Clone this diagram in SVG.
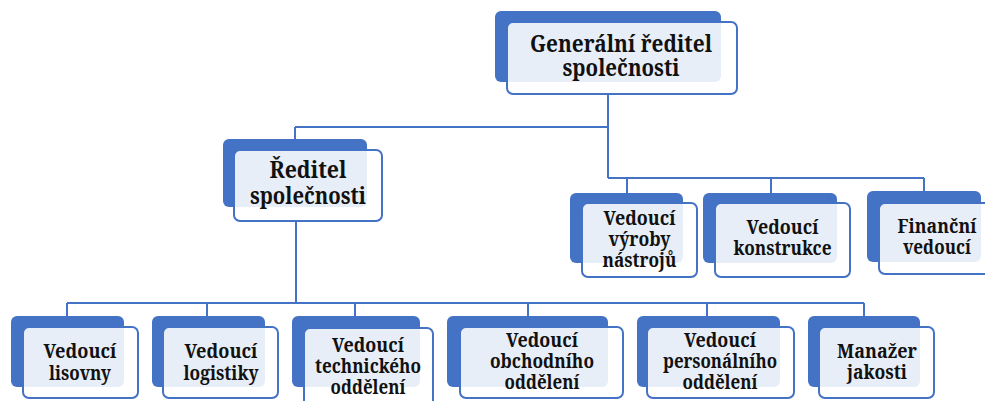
<svg xmlns="http://www.w3.org/2000/svg" width="985" height="401" viewBox="0 0 985 401">
<style>
.bk{fill:#4472c4}
.fr{fill:#ffffff;fill-opacity:0.88;stroke:#4472c4;stroke-width:2}
.ln{stroke:#4472c4;stroke-width:2;fill:none}
text{font-family:'Noto Serif','DejaVu Serif',serif;font-weight:700;fill:#111;text-anchor:middle}
.big{font-size:23px}
.sm{font-size:19px}
</style>
<rect width="985" height="401" fill="#ffffff"/>
<g id="connectors">
<path class="ln" d="M608 94V178M295 127H608M295 127V139M608 178H924M627 178V193M771 178V193M924 178V191"/>
<path class="ln" d="M296 221V303M67 303H864M67 303V316M207 303V316M355 303V316M528 303V316M707 303V316M864 303V316"/>
</g>
<g id="gen">
<rect class="bk" x="495" y="11" width="226" height="71" rx="6"/>
<rect class="fr" x="507" y="22" width="230" height="72" rx="6"/>
<text class="big" x="621" y="52" textLength="182" lengthAdjust="spacingAndGlyphs">Generální ředitel</text>
<text class="big" x="621" y="76" textLength="117" lengthAdjust="spacingAndGlyphs">společnosti</text>
</g>
<g id="reditel">
<rect class="bk" x="223" y="139" width="144" height="68" rx="6"/>
<rect class="fr" x="234" y="150" width="148" height="71" rx="6"/>
<text class="big" x="308" y="178" textLength="77" lengthAdjust="spacingAndGlyphs">Ředitel</text>
<text class="big" x="308" y="204" textLength="116" lengthAdjust="spacingAndGlyphs">společnosti</text>
</g>
<g id="vyroba">
<rect class="bk" x="570" y="193" width="113" height="70" rx="6"/>
<rect class="fr" x="582" y="203" width="115" height="74" rx="6"/>
<text class="sm" x="639.5" y="225" textLength="72" lengthAdjust="spacingAndGlyphs">Vedoucí</text>
<text class="sm" x="639.5" y="246" textLength="62" lengthAdjust="spacingAndGlyphs">výroby</text>
<text class="sm" x="639.5" y="267" textLength="74" lengthAdjust="spacingAndGlyphs">nástrojů</text>
</g>
<g id="konstrukce">
<rect class="bk" x="703" y="193" width="134" height="70" rx="6"/>
<rect class="fr" x="715" y="203" width="135" height="74" rx="6"/>
<text class="sm" x="782.5" y="234" textLength="72" lengthAdjust="spacingAndGlyphs">Vedoucí</text>
<text class="sm" x="782.5" y="255" textLength="98" lengthAdjust="spacingAndGlyphs">konstrukce</text>
</g>
<g id="financni">
<rect class="bk" x="867" y="191" width="114" height="71" rx="6"/>
<rect class="fr" x="879" y="203" width="116" height="71" rx="6"/>
<text class="sm" x="937" y="233" textLength="79" lengthAdjust="spacingAndGlyphs">Finanční</text>
<text class="sm" x="937" y="254" textLength="68" lengthAdjust="spacingAndGlyphs">vedoucí</text>
</g>
<g id="lisovna">
<rect class="bk" x="11" y="316" width="113" height="71" rx="6"/>
<rect class="fr" x="23" y="327" width="115" height="71" rx="6"/>
<text class="sm" x="80" y="358" textLength="73" lengthAdjust="spacingAndGlyphs">Vedoucí</text>
<text class="sm" x="80" y="380" textLength="62" lengthAdjust="spacingAndGlyphs">lisovny</text>
</g>
<g id="logistika">
<rect class="bk" x="152" y="316" width="113" height="71" rx="6"/>
<rect class="fr" x="163" y="327" width="115" height="71" rx="6"/>
<text class="sm" x="221" y="358" textLength="73" lengthAdjust="spacingAndGlyphs">Vedoucí</text>
<text class="sm" x="221" y="380" textLength="75" lengthAdjust="spacingAndGlyphs">logistiky</text>
</g>
<g id="technicke">
<rect class="bk" x="292" y="316" width="128" height="71" rx="6"/>
<rect class="fr" x="304" y="328" width="129" height="80" rx="6"/>
<text class="sm" x="368" y="352" textLength="72" lengthAdjust="spacingAndGlyphs">Vedoucí</text>
<text class="sm" x="368" y="373" textLength="106" lengthAdjust="spacingAndGlyphs">technického</text>
<text class="sm" x="368" y="394" textLength="75" lengthAdjust="spacingAndGlyphs">oddělení</text>
</g>
<g id="obchodni">
<rect class="bk" x="447" y="316" width="161" height="71" rx="6"/>
<rect class="fr" x="460" y="327" width="163" height="71" rx="6"/>
<text class="sm" x="542" y="347" textLength="72" lengthAdjust="spacingAndGlyphs">Vedoucí</text>
<text class="sm" x="542" y="368" textLength="104" lengthAdjust="spacingAndGlyphs">obchodního</text>
<text class="sm" x="542" y="389" textLength="75" lengthAdjust="spacingAndGlyphs">oddělení</text>
</g>
<g id="personalni">
<rect class="bk" x="637" y="316" width="143" height="71" rx="6"/>
<rect class="fr" x="647" y="327" width="147" height="71" rx="6"/>
<text class="sm" x="720" y="347" textLength="72" lengthAdjust="spacingAndGlyphs">Vedoucí</text>
<text class="sm" x="720" y="368" textLength="114" lengthAdjust="spacingAndGlyphs">personálního</text>
<text class="sm" x="720" y="389" textLength="75" lengthAdjust="spacingAndGlyphs">oddělení</text>
</g>
<g id="jakost">
<rect class="bk" x="808" y="316" width="112" height="71" rx="6"/>
<rect class="fr" x="819" y="327" width="115" height="71" rx="6"/>
<text class="sm" x="877" y="358" textLength="80" lengthAdjust="spacingAndGlyphs">Manažer</text>
<text class="sm" x="877" y="379" textLength="60" lengthAdjust="spacingAndGlyphs">jakosti</text>
</g>
</svg>
